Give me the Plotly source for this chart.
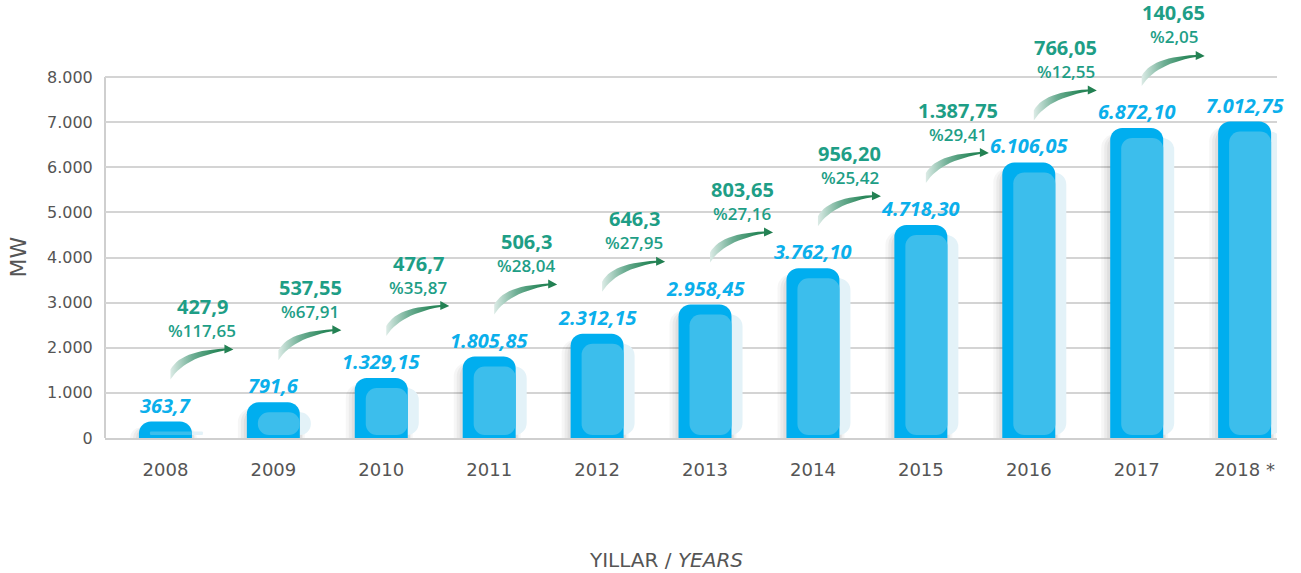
import plotly.graph_objects as go

years = ["2008", "2009", "2010", "2011", "2012", "2013", "2014", "2015", "2016", "2017", "2018 *"]
capacity = [363.7, 791.6, 1329.15, 1805.85, 2312.15, 2958.45, 3762.10, 4718.30, 6106.05, 6872.10, 7012.75]
capacity_labels = ["363,7", "791,6", "1.329,15", "1.805,85", "2.312,15", "2.958,45", "3.762,10",
                   "4.718,30", "6.106,05", "6.872,10", "7.012,75"]
growth_labels = ["427,9", "537,55", "476,7", "506,3", "646,3", "803,65", "956,20",
                 "1.387,75", "766,05", "140,65"]
growth_pct = ["%117,65", "%67,91", "%35,87", "%28,04", "%27,95", "%27,16", "%25,42",
              "%29,41", "%12,55", "%2,05"]
y_ticks = [0, 1000, 2000, 3000, 4000, 5000, 6000, 7000, 8000]
y_tick_text = ["0", "1.000", "2.000", "3.000", "4.000", "5.000", "6.000", "7.000", "8.000"]

# layout geometry (page pixels; body margin removed via post_script)
W, H = 1301, 573
LEFT, RIGHT, TOP8000, BOTTOM, PLOT_TOP = 105, 1277, 77, 438, 2
ML = LEFT
MR = W - RIGHT
MT = PLOT_TOP
MB = H - BOTTOM
pw = RIGHT - LEFT
ph = BOTTOM - PLOT_TOP
XR = [-0.56, 10.30]
px_x = (XR[1] - XR[0]) / pw                      # x data units per pixel
px_y = 8000 / (BOTTOM - TOP8000)                 # y data units per pixel
YR = [0, px_y * ph]

xs = list(range(len(years)))
bw = 53 * px_x
inset = 11 * px_x
top_cut = 10 * px_y
base_lift = 3 * px_y

fig = go.Figure()

# soft drop shadow layers
for grow, shift, alpha in [(14, 9, 0.035), (9, 6, 0.045), (5, 3, 0.05)]:
    fig.add_trace(go.Bar(
        x=xs, y=[max(v - 6 * px_y, 0) for v in capacity],
        width=bw + grow * px_x, offset=-bw / 2 - shift * px_x,
        marker=dict(color=f"rgba(0,0,0,{alpha})", cornerradius=14, line_width=0),
        hoverinfo="skip", showlegend=False))

# pale back bar
fig.add_trace(go.Bar(
    x=xs, y=[max(v - top_cut - base_lift, 0) for v in capacity], base=base_lift,
    width=bw, offset=-bw / 2 + inset, marker=dict(color="#E3F2F8", cornerradius=12, line_width=0),
    hoverinfo="skip", showlegend=False))
# main bar
fig.add_trace(go.Bar(
    x=xs, y=capacity, width=bw, offset=-bw / 2,
    marker=dict(color="#00AEEF", cornerradius=12, line_width=0),
    hoverinfo="skip", showlegend=False))
# inner lighter bar
fig.add_trace(go.Bar(
    x=xs, y=[max(v - top_cut - base_lift, 0) for v in capacity], base=base_lift,
    width=bw - inset, offset=-bw / 2 + inset,
    marker=dict(color="#3CBEEC", cornerradius=11, line_width=0),
    hoverinfo="skip", showlegend=False))


def bez(p0, c, p2, n=14):
    pts = []
    for k in range(n + 1):
        t = k / n
        x = (1 - t) ** 2 * p0[0] + 2 * (1 - t) * t * c[0] + t ** 2 * p2[0]
        y = (1 - t) ** 2 * p0[1] + 2 * (1 - t) * t * c[1] + t ** 2 * p2[1]
        pts.append((x, y))
    return pts


# swoosh arrow outline in pixel offsets (y up), anchored at bottom-left
lower = bez((0, 0), (14, 22), (54, 29))
upper = bez((0, 10), (10, 29), (54, 31))
arrow_px = lower + [(54, 26), (63, 30), (54, 35)] + upper[::-1] + [(0, 0)]

for i in range(len(growth_labels)):
    ax0 = i + 5 * px_x
    ay0 = capacity[i] + 42 * px_y
    axs = [ax0 + p[0] * px_x for p in arrow_px]
    ays = [ay0 + p[1] * px_y for p in arrow_px]
    fig.add_trace(go.Scatter(
        x=axs, y=ays, mode="lines", fill="toself", line=dict(width=0, color="rgba(0,0,0,0)"),
        fillgradient=dict(type="horizontal",
                          colorscale=[[0, "#DCEBE6"], [0.35, "#6FAF95"], [0.7, "#2E8A5E"], [1, "#1E7D4E"]]),
        hoverinfo="skip", showlegend=False))

# y axis line limited to 0..8000
shapes = [dict(type="line", xref="paper", yref="y", x0=0, x1=0, y0=0, y1=8000,
               line=dict(color="#CFCFCF", width=2), layer="below")]

annotations = []
for i, lab in enumerate(capacity_labels):
    annotations.append(dict(
        x=i, y=capacity[i], xref="x", yref="y", text=f"<b><i>{lab}</i></b>", showarrow=False,
        yanchor="bottom", yshift=1,
        font=dict(family="Open Sans", size=20, color="#0BAFEB")))

for i in range(len(growth_labels)):
    tx = i + 37 * px_x
    annotations.append(dict(
        x=tx, y=capacity[i], xref="x", yref="y", text=f"<b>{growth_labels[i]}</b>", showarrow=False,
        yanchor="middle", yshift=115,
        font=dict(family="Open Sans", size=20, color="#1E9E86")))
    annotations.append(dict(
        x=tx, y=capacity[i], xref="x", yref="y", text=growth_pct[i], showarrow=False,
        yanchor="middle", yshift=91,
        font=dict(family="Open Sans", size=17, color="#1E9E86", weight=600)))

annotations.append(dict(
    x=(18 - LEFT) / pw, y=(BOTTOM - (TOP8000 + BOTTOM) / 2) / ph, xref="paper", yref="paper",
    text="MW", showarrow=False, textangle=-90, xanchor="center", yanchor="middle",
    font=dict(family="DejaVu Sans", size=22, color="#555555")))
annotations.append(dict(
    x=(666 - LEFT) / pw, y=(BOTTOM - 560) / ph, xref="paper", yref="paper",
    text="YILLAR / <i>YEARS</i>", showarrow=False, xanchor="center", yanchor="middle",
    font=dict(family="DejaVu Sans", size=20, color="#555555")))

fig.update_layout(
    width=W, height=H,
    margin=dict(l=ML, r=MR, t=MT, b=MB, pad=0),
    paper_bgcolor="white", plot_bgcolor="white",
    barmode="overlay",
    showlegend=False,
    xaxis=dict(range=XR, tickvals=xs, ticktext=years, showgrid=False, zeroline=False,
               showline=True, linecolor="#CFCFCF", linewidth=2,
               ticks="outside", ticklen=14, tickcolor="rgba(0,0,0,0)",
               tickfont=dict(family="DejaVu Sans", size=18, color="#555555")),
    yaxis=dict(range=YR, tickvals=y_ticks, ticktext=y_tick_text, showgrid=True,
               gridcolor="#D4D4D4", gridwidth=1.5, zeroline=False,
               showline=False,
               ticks="outside", ticklen=8, tickcolor="rgba(0,0,0,0)",
               tickfont=dict(family="DejaVu Sans", size=16, color="#555555")),
    shapes=shapes,
    annotations=annotations,
)

fig.write_html("out.html", config={"displayModeBar": False},
               post_script="document.body.style.margin='0';document.body.style.overflow='hidden';")
